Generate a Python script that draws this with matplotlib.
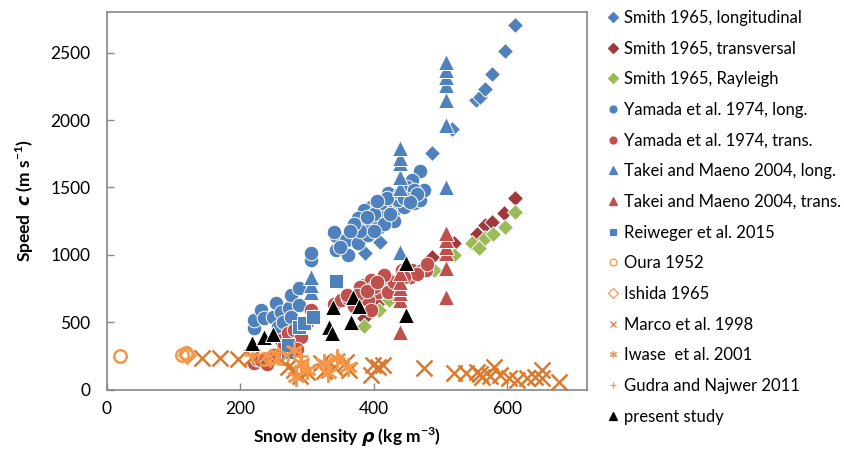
import matplotlib
matplotlib.use('Agg')
import matplotlib.pyplot as plt

plt.rcParams['font.family'] = ['Lato', 'DejaVu Sans']
plt.rcParams['mathtext.fontset'] = 'custom'
plt.rcParams['mathtext.rm'] = 'Lato:bold'
plt.rcParams['mathtext.bf'] = 'Lato:bold'
plt.rcParams['mathtext.it'] = 'DejaVu Sans:italic:bold'

# data: density (kg m-3), speed (m s-1)
smith_long_x = [387, 410, 487, 518, 553, 560, 567, 577, 597, 612]
smith_long_y = [1015, 1096, 1755, 1933, 2148, 2170, 2230, 2341, 2511, 2704]

smith_trans_x = [386, 408, 487, 521, 555, 567, 577, 595, 612]
smith_trans_y = [533, 652, 985, 1089, 1155, 1222, 1244, 1311, 1420]

smith_ray_x = [386, 408, 423, 491, 521, 547, 558, 567, 579, 597, 612]
smith_ray_y = [474, 593, 667, 889, 1000, 1090, 1052, 1126, 1156, 1207, 1320]

yamada_long_x = [220, 220, 231, 235, 249, 253, 256, 261, 264, 273, 276, 276, 288, 288,
                 306, 306, 344, 362, 344, 362, 341, 359, 377, 392, 407, 396, 386, 411,
                 416, 423, 431, 437, 446, 461, 469, 475, 469, 457, 452, 437, 422, 411,
                 396, 386, 377, 400, 420, 440, 450, 460, 430, 415, 380, 370, 400, 445,
                 465, 455, 390, 425, 405, 365, 350]
yamada_long_y = [459, 519, 593, 533, 541, 644, 467, 578, 504, 607, 541, 704, 630, 756,
                 963, 1015, 1141, 1111, 1037, 1000, 1170, 1111, 1089, 1148, 1200, 1259, 1222, 1348,
                 1311, 1370, 1333, 1393, 1356, 1385, 1407, 1481, 1622, 1555, 1444, 1407, 1459, 1385,
                 1356, 1333, 1274, 1300, 1420, 1460, 1500, 1480, 1250, 1230, 1180, 1230, 1180, 1420,
                 1450, 1390, 1280, 1300, 1400, 1180, 1060]

yamada_trans_x = [220, 225, 231, 240, 250, 261, 265, 271, 280, 291, 285, 306, 310, 300,
                  340, 351, 362, 370, 386, 396, 411, 407, 392, 419, 442, 457, 472, 479,
                  454, 422, 396, 380, 400, 430, 415, 375, 390, 405, 465, 480, 445, 360]
yamada_trans_y = [200, 230, 222, 190, 260, 370, 330, 422, 444, 393, 300, 593, 541, 500,
                  640, 667, 681, 620, 778, 815, 793, 726, 667, 837, 889, 889, 889, 889,
                  837, 726, 593, 760, 760, 800, 850, 700, 730, 800, 860, 930, 840, 700]

takei_long_x = [306, 306, 306, 439, 439, 439, 439, 439, 439, 509, 509, 509, 509, 509, 509, 509]
takei_long_y = [726, 778, 837, 1022, 1496, 1578, 1681, 1719, 1793, 1500, 1963, 2148, 2259,
                2318, 2370, 2430]

takei_trans_x = [439, 439, 439, 439, 439, 439, 509, 509, 509, 509, 509, 509]
takei_trans_y = [430, 667, 718, 755, 800, 867, 689, 904, 1015, 1059, 1111, 1163]

reiweger_x = [271, 271, 288, 295, 309, 344]
reiweger_y = [281, 333, 467, 496, 541, 807]

oura_x = [20, 113, 119, 235, 249, 262]
oura_y = [252, 259, 274, 230, 244, 240]

ishida_x = [120, 245, 256]
ishida_y = [262, 238, 252]

marco_x = [143, 170, 196, 218, 271, 280, 321, 326, 340, 359, 363, 396, 399, 407, 414, 475,
           521, 539, 555, 562, 580, 589, 603, 615, 630, 642, 653, 653, 678, 290, 300, 560, 575]
marco_y = [237, 237, 230, 244, 170, 148, 200, 140, 170, 207, 148, 111, 185, 170, 185, 163,
           126, 126, 133, 96, 170, 111, 89, 74, 89, 96, 148, 89, 59, 100, 130, 120, 100]

iwase_x = [280, 291, 283, 326, 332, 362, 300, 345]
iwase_y = [296, 200, 96, 200, 126, 170, 150, 240]

gudra_x = [218, 290, 345]
gudra_y = [260, 250, 240]

present_x = [218, 235, 249, 333, 338, 339, 366, 369, 378, 449, 449]
present_y = [350, 393, 415, 467, 422, 615, 500, 690, 620, 941, 556]

blue = '#4F81BD'
red = '#C0504D'
green = '#9BBB59'
darkred = '#A0373A'
orange = '#F79646'
dorange = '#DB7A2E'

fig = plt.figure(figsize=(8.45, 4.55), dpi=100)
ax = fig.add_axes([0.1266, 0.1429, 0.568, 0.8307])

ms = 10.5
series = [
    (smith_long_x, smith_long_y, 'D', blue, True, 'Smith 1965, longitudinal', 8.5),
    (smith_trans_x, smith_trans_y, 'D', darkred, True, 'Smith 1965, transversal', 8.5),
    (smith_ray_x, smith_ray_y, 'D', green, True, 'Smith 1965, Rayleigh', 8.5),
    (yamada_long_x, yamada_long_y, 'o', blue, True, 'Yamada et al. 1974, long.', ms),
    (yamada_trans_x, yamada_trans_y, 'o', red, True, 'Yamada et al. 1974, trans.', ms),
    (takei_long_x, takei_long_y, '^', blue, True, 'Takei and Maeno 2004, long.', 11),
    (takei_trans_x, takei_trans_y, '^', red, True, 'Takei and Maeno 2004, trans.', 11),
    (reiweger_x, reiweger_y, 's', blue, True, 'Reiweger et al. 2015', 9.5),
    (oura_x, oura_y, 'o', orange, False, 'Oura 1952', 9),
    (ishida_x, ishida_y, 'D', orange, False, 'Ishida 1965', 8),
    (marco_x, marco_y, 'x', dorange, False, 'Marco et al. 1998', 11),
    (iwase_x, iwase_y, (6, 2, 0), orange, False, 'Iwase  et al. 2001', 13),
    (gudra_x, gudra_y, '+', orange, False, 'Gudra and Najwer 2011', 12),
    (present_x, present_y, '^', 'black', True, 'present study', 11),
]

handles = []
for xs, ys, mk, col, filled, lab, size in series:
    if filled:
        ax.plot(xs, ys, linestyle='none', marker=mk, markersize=size,
                markerfacecolor=col, markeredgecolor='white', markeredgewidth=0.7)
    else:
        ax.plot(xs, ys, linestyle='none', marker=mk, markersize=size,
                markerfacecolor='none', markeredgecolor=col, markeredgewidth=1.8)
    h, = ax.plot([], [], linestyle='none', marker=mk,
                 markersize=5 if mk != '^' else 5.5,
                 markerfacecolor=col if filled else 'none',
                 markeredgecolor=col, markeredgewidth=0.9, label=lab)
    handles.append(h)

ax.set_xlim(0, 720)
ax.set_ylim(0, 2800)
ax.set_xticks([0, 200, 400, 600])
ax.set_yticks([0, 500, 1000, 1500, 2000, 2500])
ax.tick_params(direction='in', length=5, color='#868686', labelsize=12.5, width=1)
ax.tick_params(axis='y', pad=12)
ax.tick_params(axis='x', pad=8)
for s in ax.spines.values():
    s.set_color('#868686')
    s.set_linewidth(1.2)

ax.set_xlabel(r'Snow density $\rho$ (kg m$^{-3}$)', fontsize=12.5, fontweight='bold', labelpad=6)
ax.set_ylabel(r'Speed  $c$ (m s$^{-1}$)', fontsize=12.5, fontweight='bold', labelpad=10)

fig.legend(handles=handles, loc='upper left', bbox_to_anchor=(0.712, 0.993),
           frameon=False, fontsize=12, handlelength=0.6, handletextpad=0.35,
           labelspacing=0.88, borderaxespad=0)

fig.savefig('out.png', dpi=100)
